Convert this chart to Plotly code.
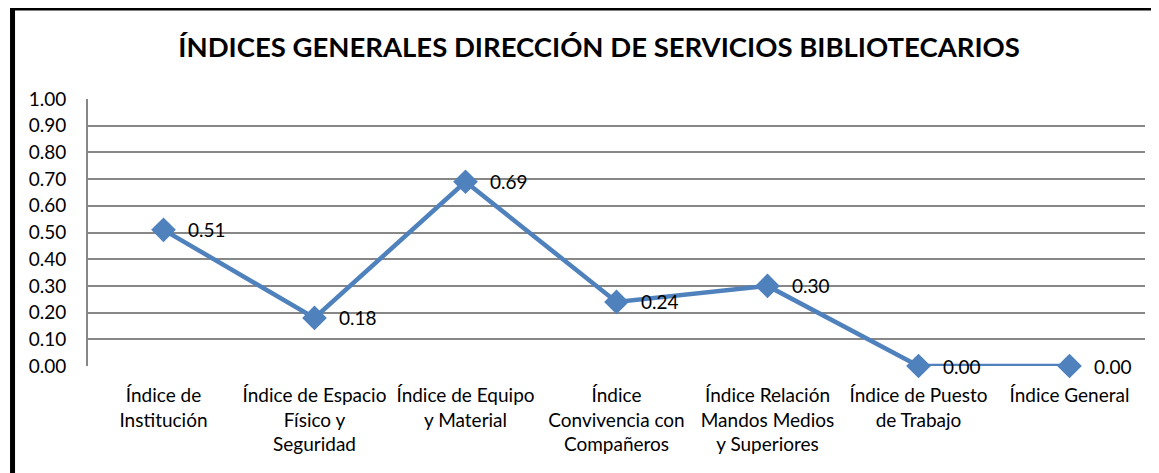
import plotly.graph_objects as go

categories = [
    "Índice de<br>Institución",
    "Índice de Espacio<br>Físico y<br>Seguridad",
    "Índice de Equipo<br>y Material",
    "Índice<br>Convivencia con<br>Compañeros",
    "Índice Relación<br>Mandos Medios<br>y Superiores",
    "Índice de Puesto<br>de Trabajo",
    "Índice General",
]
values = [0.51, 0.18, 0.69, 0.24, 0.30, 0.00, 0.00]
y_ticks = [0.0, 0.1, 0.2, 0.3, 0.4, 0.5, 0.6, 0.7, 0.8, 0.9, 1.0]
title_text = "ÍNDICES GENERALES DIRECCIÓN DE SERVICIOS BIBLIOTECARIOS"

FONT = "Lato"
FS = 19
x_idx = list(range(len(categories)))

fig = go.Figure()
fig.add_trace(go.Scatter(
    x=x_idx, y=values, mode="lines+markers",
    line=dict(color="#4F81BD", width=4.5),
    marker=dict(symbol="diamond", size=19, color="#4F81BD"),
    hoverinfo="skip", showlegend=False, cliponaxis=False,
))

for xi, v in zip(x_idx, values):
    fig.add_annotation(x=xi, y=v, text=f"{v:.2f}", showarrow=False,
                       xanchor="left", yanchor="middle", xshift=22,
                       font=dict(family=FONT, size=FS, color="black"))

fig.update_layout(
    width=1159, height=473,
    margin=dict(l=80, r=22, t=91, b=115),
    paper_bgcolor="white", plot_bgcolor="white",
    font=dict(family=FONT, size=FS, color="black"),
    title=dict(text=f"<b>{title_text}</b>", x=0.51, xanchor="center",
               y=0.9175, yanchor="middle",
               font=dict(family=FONT, size=27.5, color="black")),
    xaxis=dict(
        range=[-0.5, len(categories) - 0.5],
        tickmode="array", tickvals=x_idx, ticktext=categories,
        showgrid=False, zeroline=False, showline=False,
        ticks="outside", ticklen=12, tickcolor="rgba(0,0,0,0)",
        tickfont=dict(family=FONT, size=FS),
    ),
    yaxis=dict(
        range=[0, 1.0], tickmode="array", tickvals=y_ticks,
        ticktext=[f"{t:.2f}" for t in y_ticks],
        showgrid=True, gridcolor="#878787", gridwidth=1.6,
        zeroline=False, showline=True, linecolor="#878787", linewidth=1.6,
        ticks="outside", ticklen=16, tickcolor="rgba(0,0,0,0)",
        tickfont=dict(family=FONT, size=FS),
    ),
    shapes=[
        dict(type="line", xref="paper", yref="paper", x0=-0.0714, x1=-0.0714,
             y0=-0.5, y1=1.34, line=dict(color="black", width=5)),
        dict(type="line", xref="paper", yref="paper", x0=-0.0738, x1=1.1,
             y0=1.337, y1=1.337, line=dict(color="black", width=3)),
    ],
)

fig.write_html("out.html")
